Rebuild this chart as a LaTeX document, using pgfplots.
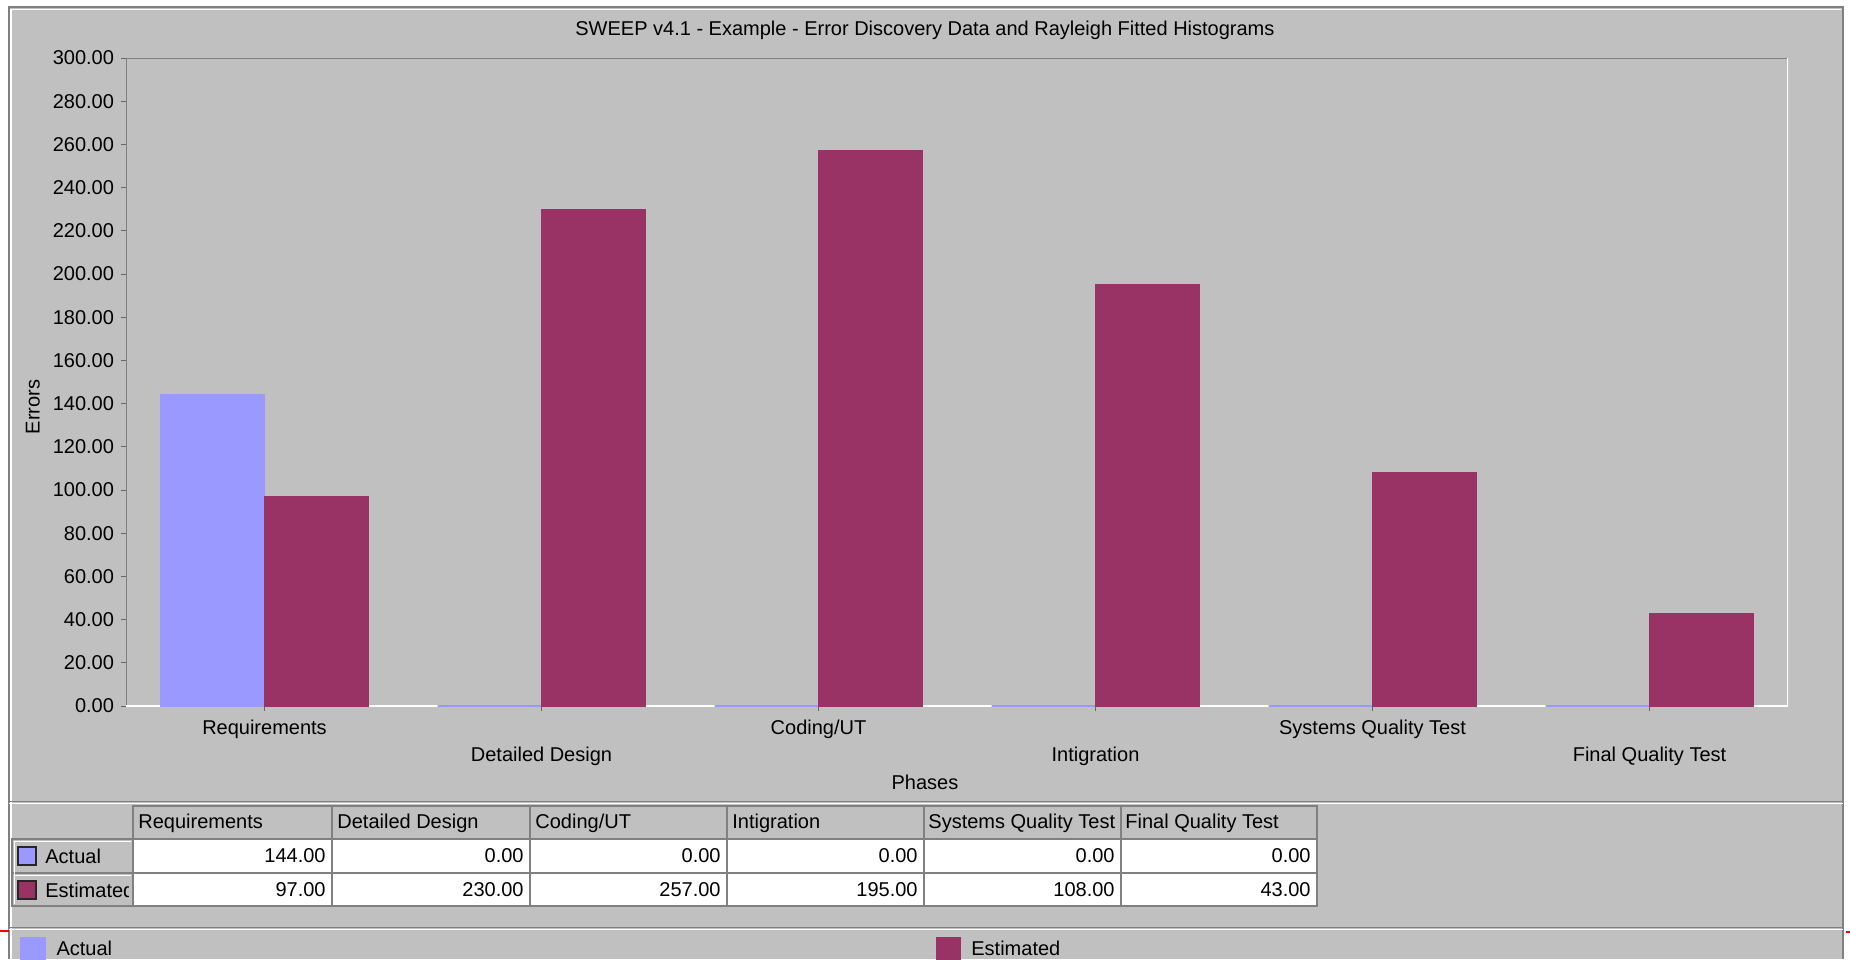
\documentclass[border=0pt]{standalone}
\usepackage{fontspec}
\setmainfont{Liberation Sans}
\usepackage{pgfplots}
\pgfplotsset{compat=1.18}
\definecolor{bgc}{HTML}{C0C0C0}
\definecolor{actc}{HTML}{9999FF}
\definecolor{estc}{HTML}{993366}
\definecolor{dk}{HTML}{808080}
\newcommand\f{\fontsize{10}{12}\selectfont}
\begin{document}
\begin{tikzpicture}[font=\f]
\useasboundingbox (0,0) rectangle (925pt,479.5pt);
\begin{scope}[yshift=479.5pt, x=0.5pt, y=-0.5pt]
  \fill[white] (0,0) rectangle (1850,959);
  \fill[bgc] (9,7) rectangle (1843,959);
  \draw[dk, line width=0.7pt] (9,959) -- (9,7) -- (1843,7) -- (1843,959);
  \draw[white, line width=0.6pt] (11,959) -- (11,9.5) -- (1841,9.5);
  \draw[dk, line width=0.6pt] (9,801.5) -- (1843,801.5);
  \draw[white, line width=0.6pt] (9,803.5) -- (1843,803.5);
  \draw[dk, line width=0.6pt] (9,927.5) -- (1843,927.5);
  \draw[white, line width=0.6pt] (9,929.5) -- (1843,929.5);
  \draw[red, line width=0.8pt] (0,931) -- (9,931);
  \draw[red, line width=0.8pt] (1846,932) -- (1850,932);
  % table
  \fill[white] (133,839) rectangle (1317,906);
  \draw[dk, line width=0.6pt] (133,806) rectangle (1317,906);
  \foreach \x in {332,530,727,924,1121} \draw[dk, line width=0.6pt] (\x,806) -- (\x,906);
  \draw[dk, line width=0.6pt] (12,839) -- (1317,839);
  \draw[dk, line width=0.6pt] (12,873) -- (1317,873);
  \draw[dk, line width=0.6pt] (12,839) rectangle (133,906);
  \draw[white, line width=0.5pt] (14,904) -- (14,841) -- (131,841);
  \draw[white, line width=0.5pt] (14,904) -- (14,875) -- (131,875);
  \node[anchor=west, inner sep=0pt] at (138,823) {Requirements};
  \node[anchor=west, inner sep=0pt] at (337,823) {Detailed Design};
  \node[anchor=west, inner sep=0pt] at (535,823) {Coding/UT};
  \node[anchor=west, inner sep=0pt] at (732,823) {Intigration};
  \node[anchor=west, inner sep=0pt] at (928,823) {Systems Quality Test};
  \node[anchor=west, inner sep=0pt] at (1125,823) {Final Quality Test};
  \node[anchor=east, inner sep=0pt] at (326,856) {144.00};
  \node[anchor=east, inner sep=0pt] at (524,856) {0.00};
  \node[anchor=east, inner sep=0pt] at (721,856) {0.00};
  \node[anchor=east, inner sep=0pt] at (918,856) {0.00};
  \node[anchor=east, inner sep=0pt] at (1115,856) {0.00};
  \node[anchor=east, inner sep=0pt] at (1311,856) {0.00};
  \node[anchor=east, inner sep=0pt] at (326,890) {97.00};
  \node[anchor=east, inner sep=0pt] at (524,890) {230.00};
  \node[anchor=east, inner sep=0pt] at (721,890) {257.00};
  \node[anchor=east, inner sep=0pt] at (918,890) {195.00};
  \node[anchor=east, inner sep=0pt] at (1115,890) {108.00};
  \node[anchor=east, inner sep=0pt] at (1311,890) {43.00};
  \filldraw[fill=actc, draw=black!85, line width=0.6pt] (18,847) rectangle (36,865);
  \node[anchor=west, inner sep=0pt] at (45,856) {Actual};
  \filldraw[fill=estc, draw=black!85, line width=0.6pt] (18,881) rectangle (36,899);
  \begin{scope}
    \clip (12,873) rectangle (128,906);
    \node[anchor=west, inner sep=0pt] at (45,890) {Estimated};
  \end{scope}
\end{scope}
\begin{axis}[
  at={(63pt,126.5pt)}, anchor=south west,
  width=831pt, height=324pt, scale only axis,
  xmin=-0.5, xmax=5.5, ymin=0, ymax=300,
  axis background/.style={fill=bgc},
  axis line style={draw=none},
  ybar=0pt, bar width=0.375,
  xtick={0,1,2,3,4,5},
  xticklabels={Requirements,{\mbox{}\\[8.5pt]Detailed Design},Coding/UT,{\mbox{}\\[8.5pt]Intigration},Systems Quality Test,{\mbox{}\\[8.5pt]Final Quality Test}},
  xticklabel style={align=center, font=\f, yshift=-1.2pt},
  ytick={0,20,...,300},
  yticklabel style={font=\f, /pgf/number format/.cd, fixed, fixed zerofill, precision=2, assume math mode=true},
  tick align=outside, xtick pos=left, ytick pos=left,
  major tick length=2.5pt,
  tick style={color=black!60, line width=0.5pt},
  title={SWEEP v4.1 - Example - Error Discovery Data and Rayleigh Fitted Histograms},
  title style={at={(axis description cs:0.4807,1.0247)}, anchor=center, yshift=0pt, font=\f},
  xlabel={Phases},
  xlabel style={at={(axis description cs:0.4807,-0.1173)}, anchor=center, font=\f},
  ylabel={Errors},
  ylabel style={at={(axis description cs:-0.056,0.4614)}, anchor=center, font=\f},
  legend style={at={(axis description cs:-0.0674,-0.3758)}, anchor=west, draw=none, fill=none,
    legend columns=2, font=\f, nodes={text width=434pt, inner xsep=5.5pt, align=left}},
]
\draw[dk, line width=0.8pt] (rel axis cs:0,0) -- (rel axis cs:0,1) -- (rel axis cs:1,1);
\draw[white, line width=0.8pt] (rel axis cs:0,0) -- (rel axis cs:1,0) -- (rel axis cs:1,1);
\addplot[fill=actc, draw=actc, line width=0.6pt, bar shift=-0.1875,
  legend image code/.code={\fill[actc] (0pt,-6pt) rectangle (12pt,6pt);}]
  coordinates {(0,144) (1,0) (2,0) (3,0) (4,0) (5,0)};
\addplot[fill=estc, draw=estc, line width=0.4pt, bar shift=0.1875,
  legend image code/.code={\fill[estc] (0pt,-6pt) rectangle (12pt,6pt);}]
  coordinates {(0,97) (1,230) (2,257) (3,195) (4,108) (5,43)};
\legend{Actual,Estimated}
\end{axis}
\end{tikzpicture}
\end{document}
